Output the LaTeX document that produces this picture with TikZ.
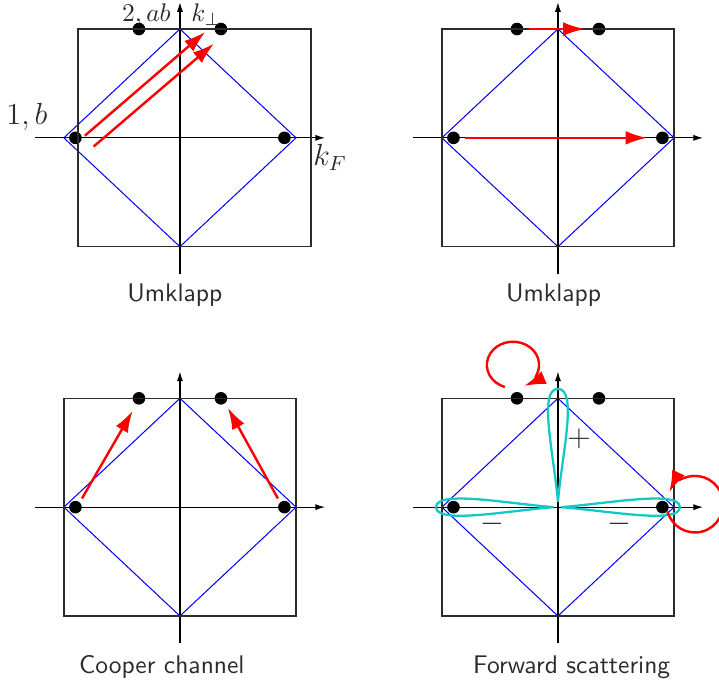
\documentclass[tikz,border=0pt]{standalone}
\usepackage{xcolor}
\usepackage{tikz}
\usetikzlibrary{arrows.meta}
\definecolor{FSRed}{HTML}{FF0000}
\definecolor{FSBlue}{HTML}{0000FF}
\definecolor{FSCyan}{HTML}{14C8C8}
\definecolor{FSLine}{HTML}{2B2B2B}
\tikzset{
  axis/.style={black,line width=.45pt,-{Latex[length=3.8pt,width=2.4pt]}},
  zone/.style={FSLine,line width=.55pt},
  fermi/.style={FSBlue,line width=.4pt},
  scatter/.style={FSRed,line width=.95pt,-{Latex[length=8.5pt,width=5.4pt]}},
  lobe/.style={FSCyan,line width=.9pt},
  caption/.style={font=\sffamily,anchor=base,text=FSLine},
  mlabel/.style={font=\large,text=FSLine,inner sep=1pt}
}

\begin{document}
\begin{tikzpicture}[x=1cm,y=1cm]
\path[use as bounding box] (0,0) rectangle (9.91,9.40);
\begin{scope}[shift={(2.48,7.50)}]
\draw[fermi] (-1.60,0) -- (0,1.50) -- (1.60,0) -- (0,-1.50) -- cycle;
\draw[axis] (-2.00,0) -- (2.00,0);
\draw[axis] (0,-1.87) -- (0,1.87);
\fill (-0.565,1.50) circle (.087);
\fill (0.565,1.50) circle (.087);
\fill (-1.44,0) circle (.087);
\fill (1.44,0) circle (.087);
\draw[zone] (-1.406,-1.50) rectangle (1.805,1.50);
\draw[scatter] (-1.31,0.03) -- (0.35,1.46);
\draw[scatter] (-1.19,-0.12) -- (0.47,1.30);
\node[mlabel,font=\normalsize,inner sep=0pt,anchor=base east] (twoab) at (-0.12,1.60) {$2,ab$};
\node[mlabel,font=\normalsize,inner sep=0pt,anchor=base west] (kperp) at (0.15,1.60) {$k_\perp$};
\node[mlabel] (oneb) at (-2.11,0.29) {$1,b$};
\node[mlabel] (kF) at (2.07,-0.27) {$k_F$};
\node[caption] (umklappA) at (-0.07,-2.25) {Umklapp};
\end{scope}
\begin{scope}[shift={(7.69,7.50)}]
\draw[fermi] (-1.60,0) -- (0,1.50) -- (1.60,0) -- (0,-1.50) -- cycle;
\draw[axis] (-2.00,0) -- (2.00,0);
\draw[axis] (0,-1.87) -- (0,1.87);
\fill (-0.565,1.50) circle (.087);
\fill (0.565,1.50) circle (.087);
\fill (-1.44,0) circle (.087);
\fill (1.44,0) circle (.087);
\draw[zone] (-1.60,-1.50) rectangle (1.60,1.50);
\draw[scatter] (-0.40,1.50) -- (0.37,1.50);
\draw[scatter] (-1.28,0) -- (1.23,0);
\node[caption] (umklappB) at (-0.06,-2.25) {Umklapp};
\end{scope}
\begin{scope}[shift={(2.48,2.41)}]
\draw[fermi] (-1.60,0) -- (0,1.50) -- (1.60,0) -- (0,-1.50) -- cycle;
\draw[axis] (-2.00,0) -- (2.00,0);
\draw[axis] (0,-1.87) -- (0,1.87);
\fill (-0.565,1.50) circle (.087);
\fill (0.565,1.50) circle (.087);
\fill (-1.44,0) circle (.087);
\fill (1.44,0) circle (.087);
\draw[zone] (-1.60,-1.50) rectangle (1.60,1.50);
\draw[scatter] (-1.35,0.12) -- (-0.65,1.33);
\draw[scatter] (1.35,0.12) -- (0.66,1.37);
\node[caption] (cooper) at (-0.25,-2.29) {Cooper channel};
\end{scope}
\begin{scope}[shift={(7.69,2.41)}]
\draw[fermi] (-1.60,0) -- (0,1.50) -- (1.60,0) -- (0,-1.50) -- cycle;
\draw[axis] (-2.00,0) -- (2.00,0);
\draw[axis] (0,-1.87) -- (0,1.87);
\fill (-0.565,1.50) circle (.087);
\fill (0.565,1.50) circle (.087);
\fill (-1.44,0) circle (.087);
\fill (1.44,0) circle (.087);
\draw[zone] (-1.60,-1.50) rectangle (1.60,1.50);
\draw[lobe] (0,0.07) .. controls (-0.05,0.7) and (-0.28,1.63) .. (0,1.63) .. controls (0.28,1.63) and (0.05,0.7) .. (0,0.07);
\draw[lobe] (-0.06,0) .. controls (-0.7,0.05) and (-1.68,0.24) .. (-1.68,0) .. controls (-1.68,-0.24) and (-0.7,-0.05) .. (-0.06,0);
\draw[lobe] (0.04,0) .. controls (0.7,0.05) and (1.68,0.24) .. (1.68,0) .. controls (1.68,-0.24) and (0.7,-0.05) .. (0.04,0);
\draw[scatter] (-0.731,1.656) arc[start angle=252,end angle=-65,x radius=0.36,y radius=0.32];
\draw[scatter] (1.511,-0.060) arc[start angle=195,end angle=515,radius=0.39];
\node[mlabel] (plus) at (0.29,0.94) {$+$};
\node[mlabel] (minusL) at (-0.90,-0.23) {$-$};
\node[mlabel] (minusR) at (0.85,-0.23) {$-$};
\node[caption] (forward) at (0.19,-2.29) {Forward scattering};
\end{scope}
\end{tikzpicture}
\end{document}
